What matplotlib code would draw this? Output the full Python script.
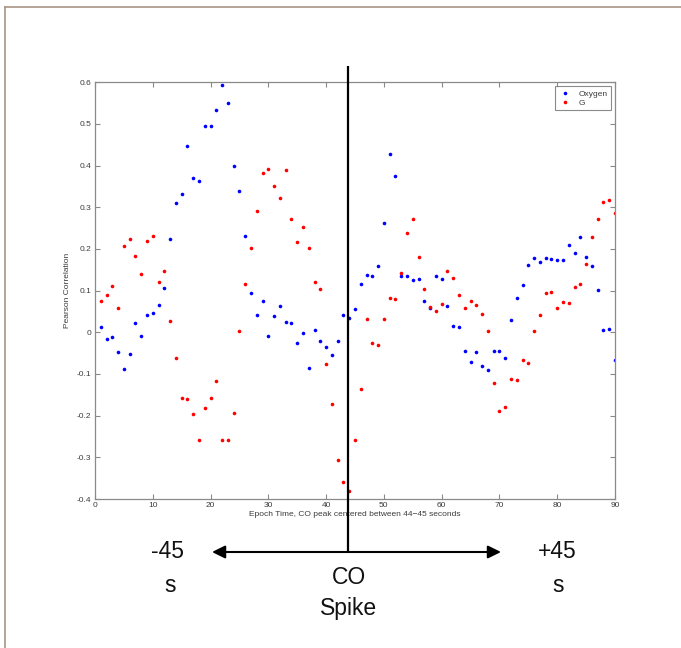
import numpy as np
import matplotlib
matplotlib.use("Agg")
import matplotlib.pyplot as plt
from matplotlib.lines import Line2D

plt.rcParams['font.family'] = ['Liberation Sans', 'DejaVu Sans']

# epoch time (s)
epoch = np.arange(1, 91)

# Pearson correlation, Oxygen
oxygen = [
    0.013, -0.015, -0.012, -0.048, -0.088, -0.051, 0.022, -0.010, 0.041, 0.046,
    0.066, 0.106, 0.224, 0.311, 0.332, 0.446, 0.370, 0.362, 0.494, 0.494,
    0.534, 0.593, 0.551, 0.398, 0.340, 0.230, 0.095, 0.042, 0.074, -0.008,
    0.040, 0.063, 0.024, 0.023, -0.026, -0.002, -0.085, 0.006, -0.022, -0.035,
    -0.054, -0.022, 0.041, 0.035, 0.057, 0.115, 0.138, 0.134, 0.158, 0.262,
    0.427, 0.374, 0.136, 0.134, 0.126, 0.128, 0.076, 0.058, 0.136, 0.128,
    0.064, 0.015, 0.012, -0.046, -0.072, -0.048, -0.082, -0.091, -0.044, -0.044,
    -0.061, 0.029, 0.082, 0.114, 0.161, 0.179, 0.169, 0.179, 0.177, 0.173,
    0.173, 0.209, 0.190, 0.229, 0.181, 0.158, 0.102, 0.006, 0.007, -0.066,
]

# Pearson correlation, G
g_vals = [
    0.074, 0.089, 0.110, 0.058, 0.208, 0.224, 0.182, 0.141, 0.218, 0.230,
    0.121, 0.146, 0.028, -0.062, -0.158, -0.159, -0.196, -0.258, -0.182, -0.158,
    -0.117, -0.259, -0.259, -0.193, 0.003, 0.115, 0.202, 0.290, 0.382, 0.393,
    0.350, 0.323, 0.390, 0.272, 0.216, 0.253, 0.203, 0.121, 0.103, -0.075,
    -0.173, -0.306, -0.360, -0.381, -0.259, -0.136, 0.031, -0.026, -0.031, 0.033,
    0.082, 0.080, 0.142, 0.239, 0.272, 0.181, 0.103, 0.060, 0.052, 0.068,
    0.146, 0.131, 0.090, 0.058, 0.074, 0.065, 0.044, 0.004, -0.122, -0.188,
    -0.180, -0.113, -0.114, -0.067, -0.073, 0.002, 0.042, 0.094, 0.097, 0.059,
    0.072, 0.070, 0.109, 0.115, 0.163, 0.228, 0.273, 0.313, 0.318, 0.286,
]

xticks = np.arange(0, 91, 10)
yticks = [-0.4, -0.3, -0.2, -0.1, 0, 0.1, 0.2, 0.3, 0.4, 0.5, 0.6]
spike_x = 43.8

W, H = 681, 648
fig = plt.figure(figsize=(W / 100, H / 100), dpi=100)
fig.patch.set_facecolor('white')

ax = fig.add_axes([95 / W, 1 - 499 / H, 520 / W, 416.7 / H])
ax.plot(epoch, oxygen, 'o', color='#0000ff', ms=2.6, mew=0, label='Oxygen')
ax.plot(epoch, g_vals, 'o', color='#ff0000', ms=2.6, mew=0, label='G')

ax.set_xlim(0, 90)
ax.set_ylim(-0.4, 0.6)
ax.set_xticks(xticks)
ax.set_yticks(yticks)
ax.set_yticklabels([str(v) for v in yticks])
ax.tick_params(direction='in', length=3.6, width=0.8, color='#8a8a8a',
               labelsize=6, labelcolor='#3c3c3c', top=True, right=True, pad=2.5)
for s in ax.spines.values():
    s.set_color('#8a8a8a')
    s.set_linewidth(0.9)

ax.set_xlabel('Epoch Time, CO peak centered between 44\u221245 seconds',
              fontsize=6, color='#3c3c3c', labelpad=1)
ax.set_ylabel('Pearson Correlation', fontsize=6, color='#3c3c3c', labelpad=4)

leg = ax.legend(loc='upper right', fontsize=6, frameon=True, fancybox=False,
                borderpad=0.4, handletextpad=0.8, handlelength=1.6,
                labelspacing=0.2, borderaxespad=0.5)
leg.get_frame().set_edgecolor('#6e6e6e')
leg.get_frame().set_linewidth(0.8)
for t in leg.get_texts():
    t.set_color('#3c3c3c')

# overlay in pixel coordinates for the annotation
ov = fig.add_axes([0, 0, 1, 1], zorder=5)
ov.set_xlim(0, W)
ov.set_ylim(H, 0)
ov.axis('off')
ov.patch.set_alpha(0)

# spike position in pixels
sx = 95 + spike_x / 90 * 520
ov.plot([sx, sx], [66, 552], color='black', lw=1.6, solid_capstyle='butt')
for tip in (212, 501):
    ov.annotate('', xy=(tip, 552), xytext=(sx, 552),
                arrowprops=dict(arrowstyle='-|>,head_length=0.65,head_width=0.32',
                                mutation_scale=12, color='black', lw=1.5,
                                shrinkA=0, shrinkB=0))

tkw = dict(fontsize=16.5, ha='center', va='center', color='#111111')
ov.text(168, 552, '-45', **tkw)
ov.text(170, 586, 's', **tkw)
ov.text(557, 552, '+45', **tkw)
ov.text(558, 586, 's', **tkw)
ov.text(349, 577, 'CO', **tkw)
ov.text(349, 608, 'Spike', **tkw)

# thin frame around the image (top and left visible)
fig.add_artist(Line2D([5 / W, 5 / W], [0, 1 - 7 / H], transform=fig.transFigure,
                      color='#a89484', lw=1.2))
fig.add_artist(Line2D([5 / W, 1], [1 - 7 / H, 1 - 7 / H], transform=fig.transFigure,
                      color='#a89484', lw=1.2))

fig.savefig('out.png', dpi=100)
